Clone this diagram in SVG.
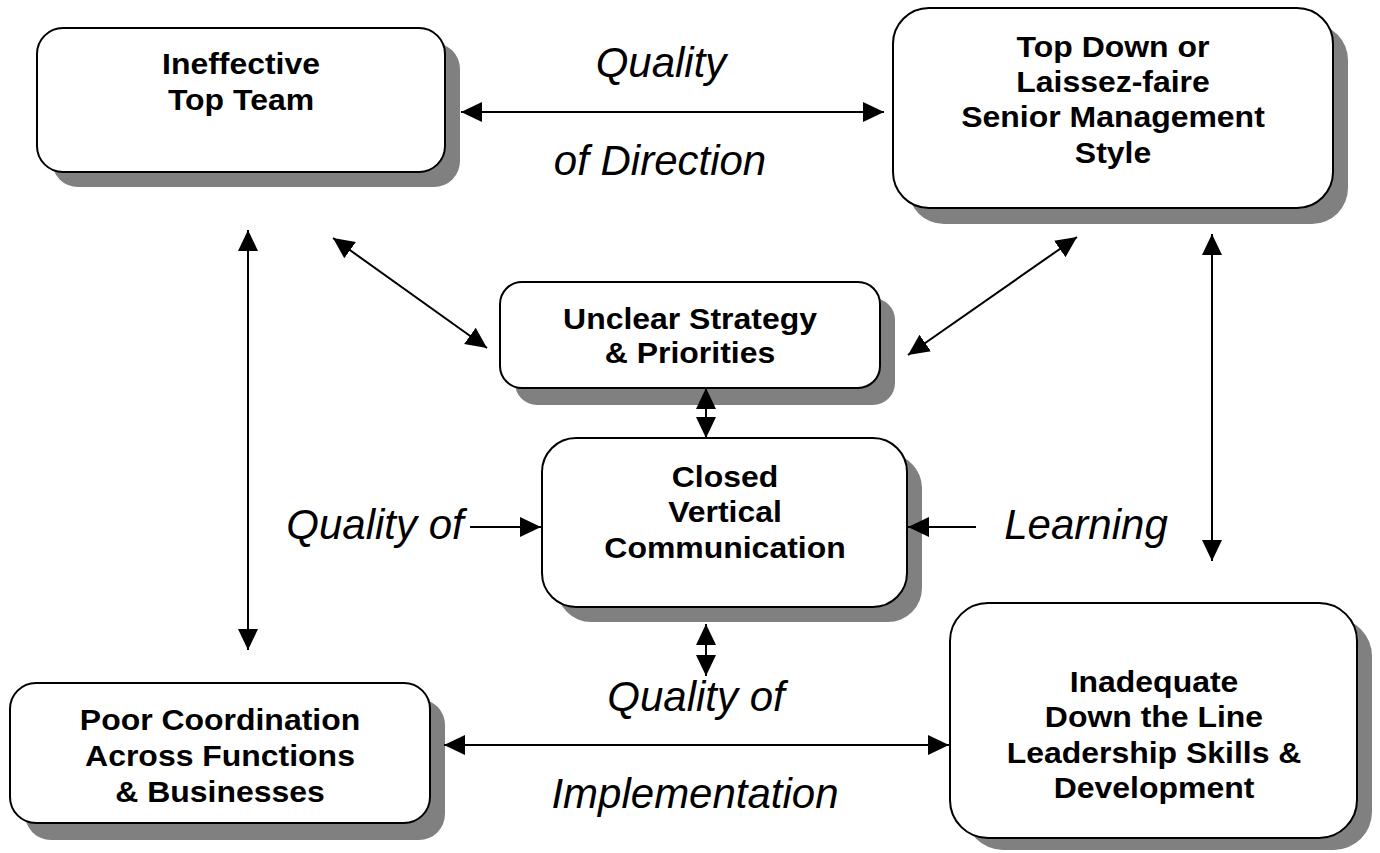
<svg xmlns="http://www.w3.org/2000/svg" width="1380" height="853" viewBox="0 0 1380 853">
<defs>
<style>
.shadow{fill:#808080;stroke:none}
.box{fill:#ffffff;stroke:#000000;stroke-width:2}
.t{font-family:"Liberation Sans",Arial,sans-serif;font-weight:bold;font-size:30px;text-anchor:middle;fill:#000}
.lbl{font-family:"Liberation Sans",Arial,sans-serif;font-style:italic;font-size:42px;text-anchor:middle;fill:#000}
.c{stroke:#000;stroke-width:2;fill:none}
.both{marker-start:url(#ah);marker-end:url(#ah)}
.one{marker-end:url(#ah)}
</style>
<marker id="ah" markerUnits="userSpaceOnUse" markerWidth="22" markerHeight="22" viewBox="0 0 22 22" refX="21" refY="11" orient="auto-start-reverse">
<path d="M0,1 L21,11 L0,21 z" fill="#000"/>
</marker>
</defs>
<rect width="1380" height="853" fill="#ffffff"/>

<g id="node-ineffective-top-team">
<rect class="shadow" x="52" y="43" width="408" height="144" rx="26"/>
<rect class="box" x="37" y="28" width="408" height="144" rx="26"/>
<g transform="translate(241,0) scale(1.065,1)">
<text class="t" x="0" y="74">Ineffective</text>
<text class="t" x="0" y="110">Top Team</text>
</g>
</g>

<g id="node-top-down-style">
<rect class="shadow" x="908" y="24" width="440" height="200" rx="36"/>
<rect class="box" x="893" y="8" width="440" height="200" rx="36"/>
<g transform="translate(1113,0) scale(1.065,1)">
<text class="t" x="0" y="57">Top Down or</text>
<text class="t" x="0" y="92">Laissez-faire</text>
<text class="t" x="0" y="127">Senior Management</text>
<text class="t" x="0" y="163">Style</text>
</g>
</g>

<g id="node-unclear-strategy">
<rect class="shadow" x="515" y="298" width="380" height="107" rx="22"/>
<rect class="box" x="500" y="282" width="380" height="106" rx="22"/>
<g transform="translate(690,0) scale(1.065,1)">
<text class="t" x="0" y="329">Unclear Strategy</text>
<text class="t" x="0" y="363">&amp; Priorities</text>
</g>
</g>

<g id="node-closed-vertical-communication">
<rect class="shadow" x="557" y="454" width="365" height="168" rx="34"/>
<rect class="box" x="542" y="438" width="365" height="169" rx="34"/>
<g transform="translate(725,0) scale(1.065,1)">
<text class="t" x="0" y="487">Closed</text>
<text class="t" x="0" y="522">Vertical</text>
<text class="t" x="0" y="558">Communication</text>
</g>
</g>

<g id="node-poor-coordination">
<rect class="shadow" x="25" y="699" width="420" height="141" rx="26"/>
<rect class="box" x="10" y="683" width="420" height="140" rx="26"/>
<g transform="translate(220,0) scale(1.065,1)">
<text class="t" x="0" y="730">Poor Coordination</text>
<text class="t" x="0" y="766">Across Functions</text>
<text class="t" x="0" y="802">&amp; Businesses</text>
</g>
</g>

<g id="node-inadequate-leadership">
<rect class="shadow" x="965" y="618" width="407" height="232" rx="38"/>
<rect class="box" x="950" y="603" width="407" height="235" rx="38"/>
<g transform="translate(1154,0) scale(1.065,1)">
<text class="t" x="0" y="692">Inadequate</text>
<text class="t" x="0" y="727">Down the Line</text>
<text class="t" x="0" y="763">Leadership Skills &amp;</text>
<text class="t" x="0" y="798">Development</text>
</g>
</g>

<g id="labels">
<text class="lbl" x="661" y="77">Quality</text>
<text class="lbl" x="660" y="175">of Direction</text>
<text class="lbl" x="375" y="539">Quality of</text>
<text class="lbl" x="1086" y="539">Learning</text>
<text class="lbl" x="696" y="711">Quality of</text>
<text class="lbl" x="695" y="808">Implementation</text>
</g>

<g id="connectors">
<line class="c both" x1="461" y1="112" x2="884" y2="112"/>
<line class="c both" x1="248" y1="230" x2="248" y2="650"/>
<line class="c both" x1="333" y1="238" x2="487" y2="348"/>
<line class="c both" x1="908" y1="355" x2="1077" y2="237"/>
<line class="c both" x1="1212" y1="234" x2="1212" y2="561"/>
<line class="c both" x1="706" y1="388" x2="706" y2="438"/>
<line class="c both" x1="706" y1="624" x2="706" y2="676"/>
<line class="c one" x1="470" y1="527" x2="541" y2="527"/>
<line class="c one" x1="976" y1="527" x2="908" y2="527"/>
<line class="c both" x1="444" y1="745" x2="949" y2="745"/>
</g>
</svg>
